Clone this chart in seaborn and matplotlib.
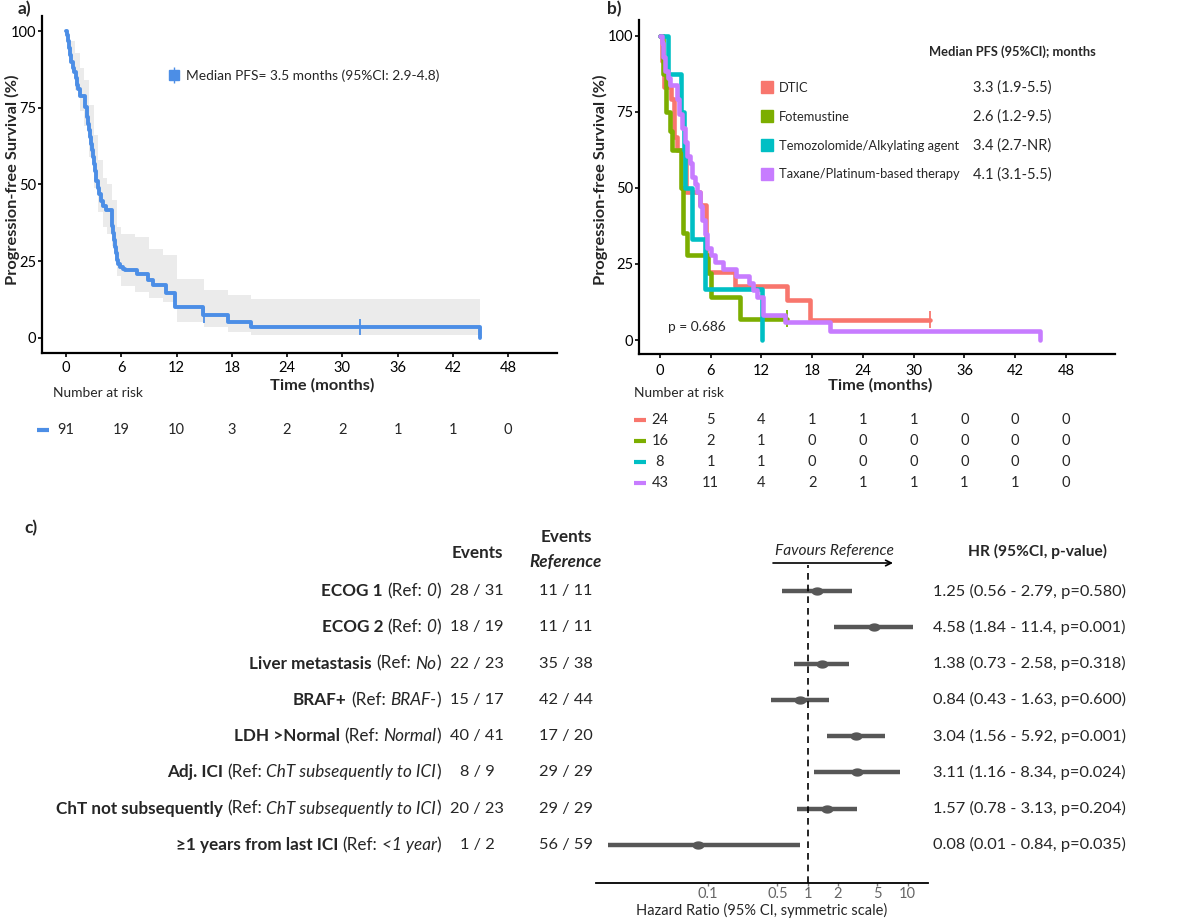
import numpy as np
import pandas as pd
import matplotlib
matplotlib.use("Agg")
import matplotlib.pyplot as plt
import matplotlib.transforms as mtrans
from matplotlib.lines import Line2D
from matplotlib.path import Path
from matplotlib.ticker import FixedLocator, FixedFormatter, NullLocator
from matplotlib.legend_handler import HandlerTuple
import seaborn as sns

# ---------------- data ----------------
time_ticks = [0, 6, 12, 18, 24, 30, 36, 42, 48]
surv_ticks = [0, 25, 50, 75, 100]

# panel a: overall Kaplan-Meier curve
km_a_time = [0, 0.1, 0.2, 0.3, 0.45, 0.6, 0.75, 0.9, 1.05, 1.2,
             1.35, 1.5, 2.05, 2.3, 2.4, 2.5, 2.6, 2.7, 2.8, 2.9,
             3.0, 3.15, 3.3, 3.45, 3.6, 3.8, 4.05, 4.3, 4.95, 5.05,
             5.15, 5.25, 5.35, 5.45, 5.55, 5.7, 5.85, 6.2, 6.4, 7.7,
             8.9, 9.5, 10.9, 11.8, 14.9, 17.6, 20.1, 44.9]
km_a_surv = [100, 98.9, 96.7, 94.5, 92.3, 90.1, 87.9, 86.8, 84.6, 82.4,
             81.3, 78.9, 75.4, 72.1, 69.9, 67.7, 65.5, 63.3, 61.1, 58.9,
             56.7, 54.5, 51.2, 49.0, 46.8, 44.6, 42.9, 41.8, 38.5, 36.3,
             34.1, 31.9, 29.7, 27.5, 25.3, 24.2, 23.1, 22.5, 22.0, 20.9,
             18.7, 17.2, 14.5, 10.1, 7.5, 5.2, 3.6, 0]
band_a_time = [0, 0.5, 1.0, 1.5, 2.0, 2.5, 3.0, 3.5, 4.0, 4.5, 5.0, 5.5, 6.0,
               7.5, 9.0, 10.5, 12.0, 15.0, 17.6, 20.1, 44.9]
band_a_hi = [100, 97, 93, 88, 84, 76, 66, 58, 52, 50, 45, 36, 34,
             33, 29, 27, 19, 15.6, 14, 12.6, 12.6]
band_a_lo = [100, 88, 81, 74, 69, 59, 49, 41, 36, 34, 30, 20, 17,
             15, 13, 11.8, 5.2, 3.6, 2, 0.9, 0.9]
censor_a_time = [15.0, 31.9]
censor_a_surv = [7.5, 3.6]
risk_a = [91, 19, 10, 3, 2, 2, 1, 1, 0]
median_a_label = "Median PFS= 3.5 months (95%CI: 2.9-4.8)"

# panel b: by chemotherapy type
groups_b = ["DTIC", "Fotemustine", "Temozolomide/Alkylating agent",
            "Taxane/Platinum-based therapy"]
medians_b = ["3.3 (1.9-5.5)", "2.6 (1.2-9.5)", "3.4 (2.7-NR)", "4.1 (3.1-5.5)"]
colors_b = ["#F8766D", "#7CAE00", "#00BFC4", "#C77CFF"]
dtic_time = [0, 0.2, 0.45, 1.3, 1.7, 2.0, 3.1, 4.7, 5.4, 8.9, 15.0, 17.7, 31.9]
dtic_surv = [100, 91.7, 83.3, 79.2, 66.7, 62.5, 48.6, 44.4, 22.2, 17.8, 13.3, 6.7, 6.7]
fote_time = [0, 0.4, 0.7, 1.2, 1.4, 2.45, 2.75, 3.15, 5.7, 6.0, 9.5, 15.0]
fote_surv = [100, 87.5, 75, 68.75, 62.5, 50, 35.2, 28.1, 21.9, 14.1, 7.0, 7.0]
temo_time = [0, 1.0, 2.45, 2.8, 3.0, 3.75, 5.3, 12.1]
temo_surv = [100, 87.5, 75, 62.5, 50, 33.3, 16.7, 0]
taxa_time = [0, 0.2, 0.4, 0.6, 0.9, 1.2, 2.0, 2.3, 2.6, 2.9, 3.2, 3.5, 3.8, 4.1,
             4.4, 4.7, 5.0, 5.3, 5.6, 6.0, 6.5, 7.5, 9.0, 10.5, 11.0, 11.5, 12.2,
             14.8, 20.1, 44.9]
taxa_surv = [100, 97.7, 93.0, 88.4, 86.0, 83.7, 79.1, 74.4, 69.8, 65.1, 60.5, 58.1,
             53.5, 51.2, 48.8, 44.2, 39.5, 34.9, 30.2, 27.9, 25.6, 23.3, 20.9, 18.6,
             16.3, 14.0, 8.1, 5.8, 2.9, 0]
censor_b_group = ["DTIC", "Fotemustine"]
censor_b_time = [31.9, 15.0]
censor_b_surv = [6.7, 7.0]
risk_b = [[24, 5, 4, 1, 1, 1, 0, 0, 0],
          [16, 2, 1, 0, 0, 0, 0, 0, 0],
          [8, 1, 1, 0, 0, 0, 0, 0, 0],
          [43, 11, 4, 2, 1, 1, 1, 1, 0]]
p_label = "p = 0.686"

# panel c: forest plot
names_c = ["ECOG 1", "ECOG 2", "Liver metastasis", "BRAF+", "LDH >Normal",
           "Adj. ICI", "ChT not subsequently", "\u22651 years from last ICI"]
refs_c = ["0", "0", "No", "BRAF-", "Normal", "ChT subsequently to ICI",
          "ChT subsequently to ICI", "<1 year"]
events_c = [28, 18, 22, 15, 40, 8, 20, 1]
totals_c = [31, 19, 23, 17, 41, 9, 23, 2]
events_ref_c = [11, 11, 35, 42, 17, 29, 29, 56]
totals_ref_c = [11, 11, 38, 44, 20, 29, 29, 59]
hr_c = [1.25, 4.58, 1.38, 0.84, 3.04, 3.11, 1.57, 0.08]
lo_c = [0.56, 1.84, 0.73, 0.43, 1.56, 1.16, 0.78, 0.01]
hi_c = [2.79, 11.4, 2.58, 1.63, 5.92, 8.34, 3.13, 0.84]
p_c = [0.580, 0.001, 0.318, 0.600, 0.001, 0.024, 0.204, 0.035]
hr_ticks = [0.1, 0.5, 1, 2, 5, 10]
hr_tick_labels = ["0.1", "0.5", "1", "2", "5", "10"]

# ---------------- style ----------------
sns.set_style("ticks")
plt.rcParams["font.family"] = ["Lato", "DejaVu Sans"]
plt.rcParams["axes.edgecolor"] = "black"
plt.rcParams["xtick.color"] = "black"
plt.rcParams["ytick.color"] = "black"

W, H = 1200, 921
fig = plt.figure(figsize=(W / 100, H / 100), dpi=100)
fig.patch.set_facecolor("white")


def fx(px):
    return px / W


def fy(py):
    return 1 - py / H


def axes_px(l, t, r, b):
    return fig.add_axes([fx(l), fy(b), (r - l) / W, (b - t) / H])


BLUE = "#4C8EE6"
FS_TICK = 10.5
FS_LAB = 11.8
FS_TXT = 9.9
FS_LEG = 9.3
FS_C = 12.3
FS_CN = 11.8


def style_km(ax):
    sns.despine(ax=ax)
    for s in ["left", "bottom"]:
        ax.spines[s].set_linewidth(1.6)
        ax.spines[s].set_color("black")
    ax.set_xticks(time_ticks)
    ax.set_yticks(surv_ticks)
    ax.tick_params(axis="both", length=3, width=1.2, labelsize=FS_TICK, pad=1)
    ax.set_xlabel("")
    ax.set_ylabel("")


# ---------------- panel a ----------------
axA = axes_px(42, 16, 557, 353)
axA.fill_between(band_a_time, band_a_lo, band_a_hi, step="post",
                 color="#EBEBEB", linewidth=0)
sns.lineplot(x=km_a_time, y=km_a_surv, ax=axA, drawstyle="steps-post",
             color=BLUE, linewidth=2.8, estimator=None, sort=False)
sns.scatterplot(x=censor_a_time, y=censor_a_surv, ax=axA, marker="|",
                s=140, color=BLUE, linewidth=1.3)
axA.set_xlim(-2.6, 53.3)
axA.set_ylim(-5, 105)
style_km(axA)
axA.tick_params(axis="x", pad=3)

h_sq = Line2D([], [], color=BLUE, marker="s", markersize=7, ls="none")
h_tk = Line2D([], [], color=BLUE, marker="|", markersize=12, markeredgewidth=1, ls="none")
axA.legend([(h_sq, h_tk)], [median_a_label], handler_map={tuple: HandlerTuple(ndivide=1)},
           loc="center left", bbox_to_anchor=(fx(169), fy(76)), bbox_transform=fig.transFigure,
           frameon=False, handlelength=0.7, handletextpad=0.5, borderpad=0,
           borderaxespad=0, fontsize=FS_TXT)

fig.text(fx(12), fy(180), "Progression-free Survival (%)", rotation=90,
         ha="center", va="center", fontsize=FS_LAB, fontweight="bold")
fig.text(fx(322), fy(385), "Time (months)", ha="center", va="center",
         fontsize=FS_LAB, fontweight="bold")
fig.text(fx(53), fy(393), "Number at risk", ha="left", va="center", fontsize=FS_TXT)
trA = mtrans.blended_transform_factory(axA.transData, fig.transFigure)
for t, n in zip(time_ticks, risk_a):
    axA.text(t, fy(430), str(n), transform=trA, ha="center", va="center",
             fontsize=FS_TICK, clip_on=False)
fig.add_artist(Line2D([fx(37), fx(49)], [fy(430), fy(430)], transform=fig.transFigure,
                      color=BLUE, lw=3, solid_capstyle="butt"))
fig.text(fx(18), fy(9), "a)", ha="left", va="center", fontsize=12.5, fontweight="bold")

# ---------------- panel b ----------------
axB = axes_px(639, 20, 1115, 354)
curves = [(dtic_time, dtic_surv), (fote_time, fote_surv), (temo_time, temo_surv),
          (taxa_time, taxa_surv)]
rows = []
for g, (tt, ss) in zip(groups_b, curves):
    for t, s in zip(tt, ss):
        rows.append({"group": g, "time": t, "surv": s})
dfb = pd.DataFrame(rows)
sns.lineplot(data=dfb, x="time", y="surv", hue="group", hue_order=groups_b,
             palette=colors_b, ax=axB, drawstyle="steps-post", linewidth=3.3,
             estimator=None, sort=False, legend=False)
dfc = pd.DataFrame({"group": censor_b_group, "time": censor_b_time, "surv": censor_b_surv})
sns.scatterplot(data=dfc, x="time", y="surv", hue="group", hue_order=groups_b,
                palette=colors_b, ax=axB, marker="|", s=140, linewidth=1.3, legend=False)
axB.set_xlim(-2.48, 53.8)
axB.set_ylim(-4.6, 105.2)
style_km(axB)
axB.tick_params(axis="x", pad=4)
axB.text(1.0, 4.3, p_label, ha="left", va="center", fontsize=FS_TXT)

handles = []
for c in colors_b:
    handles.append(Line2D([], [], color=c, marker="s", markersize=8, ls="none"))
legB = axB.legend(handles, groups_b, loc="upper left",
                  bbox_to_anchor=(fx(762), fy(82)), bbox_transform=fig.transFigure,
                  frameon=False, handlelength=0.7, handletextpad=0.6, labelspacing=1.3,
                  borderpad=0, borderaxespad=0, fontsize=FS_LEG)
fig.text(fx(929), fy(52), "Median PFS (95%CI); months", ha="left", va="center",
         fontsize=FS_LEG, fontweight="bold")

fig.text(fx(600), fy(180), "Progression-free Survival (%)", rotation=90,
         ha="center", va="center", fontsize=FS_LAB, fontweight="bold")
fig.text(fx(880), fy(385), "Time (months)", ha="center", va="center",
         fontsize=FS_LAB, fontweight="bold")
fig.text(fx(634), fy(393), "Number at risk", ha="left", va="center", fontsize=FS_TXT)
trB = mtrans.blended_transform_factory(axB.transData, fig.transFigure)
risk_rows_y = [420, 441, 462, 483]
for c, vals, yy in zip(colors_b, risk_b, risk_rows_y):
    for t, n in zip(time_ticks, vals):
        axB.text(t, fy(yy), str(n), transform=trB, ha="center", va="center",
                 fontsize=FS_TICK, clip_on=False)
    fig.add_artist(Line2D([fx(634), fx(646)], [fy(yy), fy(yy)], transform=fig.transFigure,
                          color=c, lw=3, solid_capstyle="butt"))
fig.text(fx(607), fy(9), "b)", ha="left", va="center", fontsize=12.5, fontweight="bold")

# ---------------- panel c ----------------
axC = axes_px(596, 565, 928, 883)
ypos = list(range(len(names_c)))
PT = "#575757"
axC.hlines(ypos, lo_c, hi_c, color=PT, linewidth=3.2)
th = np.linspace(0, 2 * np.pi, 60)
ellipse = Path(np.column_stack([1.45 * np.cos(th), np.sin(th)]), closed=True)
sns.scatterplot(x=hr_c, y=ypos, ax=axC, marker=ellipse, s=75, color=PT,
                edgecolor=PT, linewidth=0, zorder=3)
axC.axvline(1, color="black", linestyle=(0, (4, 3)), linewidth=1.2)
axC.set_xscale("log")
axC.set_xlim(0.00767, 16.0)
axC.set_ylim(7 + 1.05, -0.72)
sns.despine(ax=axC, left=True)
axC.spines["bottom"].set_linewidth(1.3)
axC.set_yticks([])
axC.xaxis.set_major_locator(FixedLocator(hr_ticks))
axC.xaxis.set_major_formatter(FixedFormatter(hr_tick_labels))
axC.xaxis.set_minor_locator(NullLocator())
axC.tick_params(axis="x", length=2.5, width=1, color="#777777", labelcolor="#666666",
                labelsize=10.5, pad=0.5)
axC.set_xlabel("Hazard Ratio (95% CI, symmetric scale)", fontsize=10.5, labelpad=1)
axC.set_ylabel("")

trC = mtrans.blended_transform_factory(fig.transFigure, axC.transData)
renderer = fig.canvas.get_renderer()


def text_width(s, **kw):
    t = fig.text(0, 0, s, **kw)
    w = t.get_window_extent(renderer=renderer).width
    t.remove()
    return w


space_w = text_width("x x", fontsize=FS_C) - text_width("xx", fontsize=FS_C)
for i, (nm, rf) in enumerate(zip(names_c, refs_c)):
    pieces = [(nm, {"fontweight": "bold"}, 0.0),
              ("(Ref:", {}, space_w),
              (rf, {"fontstyle": "italic"}, space_w),
              (")", {}, 0.0)]
    x_px = 441.0
    for s, kw, gap in reversed(pieces):
        t = fig.text(x_px / W, i, s, transform=trC, ha="right", va="center",
                     fontsize=FS_C, **kw)
        x_px -= t.get_window_extent(renderer=renderer).width + gap
    fig.text(fx(477), i, f"{events_c[i]} / {totals_c[i]}", transform=trC,
             ha="center", va="center", fontsize=FS_CN)
    fig.text(fx(566), i, f"{events_ref_c[i]} / {totals_ref_c[i]}", transform=trC,
             ha="center", va="center", fontsize=FS_CN)
    fig.text(fx(933), i, f"{hr_c[i]:.3g} ({lo_c[i]:.3g} - {hi_c[i]:.3g}, p={p_c[i]:.3f})",
             transform=trC, ha="left", va="center", fontsize=FS_CN)

fig.text(fx(477), fy(553), "Events", ha="center", va="center", fontsize=FS_C,
         fontweight="bold")
fig.text(fx(566), fy(537), "Events", ha="center", va="center", fontsize=FS_C,
         fontweight="bold")
fig.text(fx(566), fy(562), "Reference", ha="center", va="center", fontsize=FS_C,
         fontweight="bold", fontstyle="italic")
fig.text(fx(1038), fy(551), "HR (95%CI, p-value)", ha="center", va="center",
         fontsize=11.2, fontweight="bold")
fig.text(fx(834), fy(551), "Favours Reference", ha="center", va="center",
         fontsize=11.2, fontstyle="italic")
axC.annotate("", xy=(fx(893), fy(563)), xytext=(fx(773), fy(563)),
             xycoords="figure fraction", textcoords="figure fraction",
             arrowprops=dict(arrowstyle="->", lw=1.2, color="black",
                             shrinkA=0, shrinkB=0), annotation_clip=False)
fig.text(fx(24), fy(528), "c)", ha="left", va="center", fontsize=12.5, fontweight="bold")

# medians in panel b aligned with legend rows
fig.canvas.draw()
renderer = fig.canvas.get_renderer()
for t, val in zip(legB.get_texts(), medians_b):
    bb = t.get_window_extent(renderer=renderer)
    fig.text(fx(973), ((bb.y0 + bb.y1) / 2) / H, val, ha="left", va="center",
             fontsize=10.5)

fig.savefig("out.png", dpi=100, facecolor="white")
